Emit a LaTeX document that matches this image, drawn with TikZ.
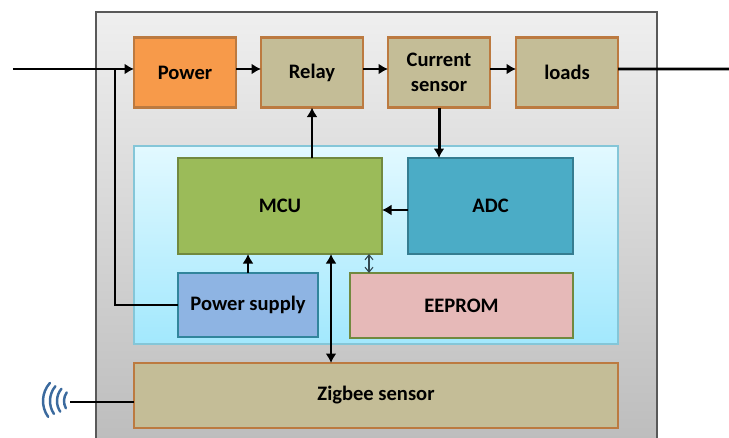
\documentclass[tikz,border=0pt]{standalone}
\usepackage{fontspec}
\setmainfont{Carlito}
\usepackage{xcolor}
\usetikzlibrary{arrows.meta,calc}
\definecolor{frameline}{HTML}{595959}
\definecolor{frametop}{HTML}{EFEFEF}
\definecolor{framebot}{HTML}{BDBDBD}
\definecolor{brownline}{HTML}{BC7A40}
\definecolor{powerfill}{HTML}{F79A4A}
\definecolor{khakifill}{HTML}{C4BD97}
\definecolor{paneltop}{HTML}{E2F9FF}
\definecolor{panelbot}{HTML}{A2E8FD}
\definecolor{panelline}{HTML}{84C6D8}
\definecolor{mcufill}{HTML}{9BBB59}
\definecolor{mculine}{HTML}{71893F}
\definecolor{adcfill}{HTML}{4BACC6}
\definecolor{adcline}{HTML}{357D91}
\definecolor{psfill}{HTML}{8EB4E3}
\definecolor{psline}{HTML}{31859C}
\definecolor{romfill}{HTML}{E6B9B8}
\definecolor{waveblue}{HTML}{3B6A9E}
\definecolor{thinarr}{HTML}{33474F}

\begin{document}
\begin{tikzpicture}[
  font=\fontsize{11.7}{14}\selectfont\bfseries,
  block/.style={draw=brownline, line width=1.3pt, align=center, inner sep=0pt, outer sep=0pt,
                fill=khakifill, minimum height=14mm, minimum width=20.4mm},
  powerbox/.style={block, fill=powerfill},
  widebox/.style={block, minimum width=96.8mm, minimum height=13mm},
  mcubox/.style={block, fill=mcufill, draw=mculine, minimum width=40.8mm, minimum height=19.2mm},
  adcbox/.style={mcubox, fill=adcfill, draw=adcline, minimum width=33mm},
  psbox/.style={block, fill=psfill, draw=psline, minimum width=28mm, minimum height=12.8mm},
  rombox/.style={block, fill=romfill, draw=mculine, minimum width=44.6mm, minimum height=13mm},
  frame/.style={draw=frameline, line width=0.7pt, inner sep=0pt, outer sep=0pt,
                top color=frametop, bottom color=framebot, minimum width=112.2mm, minimum height=85.6mm},
  panel/.style={draw=panelline, line width=0.7pt, inner sep=0pt, outer sep=0pt,
                top color=paneltop, bottom color=panelbot, minimum width=96.8mm, minimum height=39.6mm},
  arr/.style={-{Latex[length=1.9mm, width=2.2mm]}, line width=1.7pt, black},
  darr/.style={{Latex[length=1.9mm, width=2.2mm]}-{Latex[length=1.9mm, width=2.2mm]}, line width=1.7pt, black},
  wire/.style={line width=1.7pt, black},
  tharr/.style={{Straight Barb[length=1mm, width=1.6mm]}-{Straight Barb[length=1mm, width=1.6mm]}, line width=0.6pt, thinarr},
  wave/.style={line width=1.4pt, waveblue, line cap=round}
]
\useasboundingbox (0,0) rectangle (14.58,8.74);
\clip (0,0) rectangle (14.58,8.74);
% ----- housing and inner panel -----
\node[frame] (case)  at (7.53,4.22) {};
\node[panel] (board) at (7.52,3.84) {};
% ----- top row -----
\node[powerbox] (power)   at (3.70,7.29)  {Power};
\node[block]    (relay)   at (6.24,7.29)  {Relay};
\node[block]    (current) at (8.78,7.29)  {Current\\sensor};
\node[block]    (loads)   at (11.34,7.29) {loads};
% ----- inside the panel -----
\node[mcubox] (mcu)    at (5.60,4.62) {MCU};
\node[adcbox] (adc)    at (9.81,4.62) {ADC};
\node[psbox]  (supply) at (4.96,2.64) {Power supply};
\node[rombox] (eeprom) at (9.23,2.63) {EEPROM};
% ----- bottom row -----
\node[widebox] (zigbee) at (7.52,0.83) {Zigbee sensor};
% ----- free ends -----
\coordinate (linein)  at (0.26,7.36);
\coordinate (lineout) at (14.58,7.36);
\coordinate (tap)     at (2.30,7.36);
\coordinate (antline) at (1.40,0.70);
\coordinate (ant)     at (0.86,0.72);
% ----- power path -----
\draw[arr] (linein) -- (linein -| power.west);
\foreach \a/\b in {power/relay, relay/current, current/loads}{
  \draw[arr] ([yshift=.7mm]\a.east) -- ([yshift=.7mm]\b.west);}
\draw[wire] ([yshift=.7mm]loads.east) -- (lineout);
\draw[wire] (tap) |- (supply.west);
% ----- control connections -----
\draw[arr] (relay.south |- mcu.north) -- (relay.south);
\draw[arr] (current.south) -- (current.south |- adc.north);
\draw[arr] ([yshift=-.8mm]adc.west) -- ([yshift=-.8mm]mcu.east);
\draw[arr] (supply.north) -- (supply.north |- mcu.south);
\draw[darr] ([xshift=10.2mm]mcu.south) -- ([xshift=10.2mm]mcu.south |- zigbee.north);
\draw[tharr] ([xshift=17.8mm]mcu.south) -- ([xshift=17.8mm]mcu.south |- eeprom.north);
% ----- antenna -----
\draw[wire] (antline) -- (antline -| zigbee.west);
\foreach \d/\r/\t in {0/.54/39, .14/.46/37, .28/.38/37, .42/.30/32}{
  \draw[wave] ($(ant)+(\d+\r,0)+(177-\t:\r)$) arc[start angle=177-\t, delta angle=2*\t, radius=\r];}
\end{tikzpicture}
\end{document}
